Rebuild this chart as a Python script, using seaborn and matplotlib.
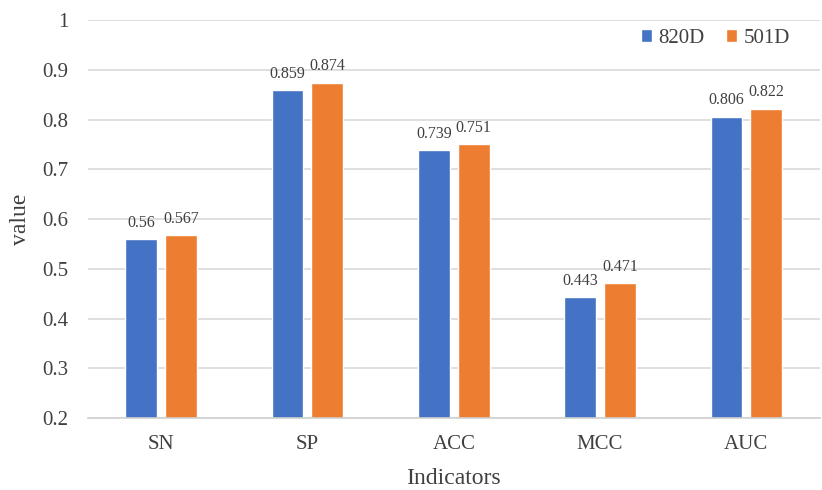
import matplotlib
matplotlib.use("Agg")
import matplotlib.pyplot as plt
import seaborn as sns
import pandas as pd
from matplotlib.ticker import FuncFormatter

indicators = ["SN", "SP", "ACC", "MCC", "AUC"]
values_820d = [0.56, 0.859, 0.739, 0.443, 0.806]
values_501d = [0.567, 0.874, 0.751, 0.471, 0.822]
label_820d = ["0.56", "0.859", "0.739", "0.443", "0.806"]
label_501d = ["0.567", "0.874", "0.751", "0.471", "0.822"]
series_names = ["820D", "501D"]
colors = ["#4472C4", "#ED7D31"]

df = pd.DataFrame({
    "Indicators": indicators * 2,
    "value": values_820d + values_501d,
    "series": [series_names[0]] * len(indicators) + [series_names[1]] * len(indicators),
})

sns.set_theme(style="white")
plt.rcParams["font.family"] = ["Liberation Serif", "DejaVu Serif"]

text_color = "#404040"

fig = plt.figure(figsize=(8.22, 4.9), dpi=100)
ax = fig.add_axes([0.107, 0.147, 0.89, 0.812])

sns.barplot(data=df, x="Indicators", y="value", hue="series",
            palette=colors, width=0.544, gap=0.2, ax=ax, saturation=1)

ax.set_ylim(0.2, 1.0)
ax.set_xlim(-0.5, 4.5)
ax.set_yticks([0.2, 0.3, 0.4, 0.5, 0.6, 0.7, 0.8, 0.9, 1.0])
ax.yaxis.set_major_formatter(FuncFormatter(lambda v, p: "1" if abs(v - 1) < 1e-9 else f"{v:.1f}"))
ax.grid(axis="y", color="#d9d9d9", linewidth=1.2)
ax.set_axisbelow(True)
for s in ["top", "right", "left"]:
    ax.spines[s].set_visible(False)
ax.spines["bottom"].set_color("#d0d0d0")
ax.spines["bottom"].set_linewidth(1.2)
ax.tick_params(axis="both", length=0, labelsize=15, colors=text_color)
ax.tick_params(axis="x", pad=12)
ax.tick_params(axis="y", pad=14)

for container, labels in zip(ax.containers, [label_820d, label_501d]):
    ax.bar_label(container, labels=labels, padding=6, fontsize=11.5, color=text_color)

ax.set_xlabel("Indicators", fontsize=17, color=text_color, labelpad=10)
ax.set_ylabel("value", fontsize=17, color=text_color, labelpad=8)

ax.legend(loc="upper right", bbox_to_anchor=(0.985, 1.025), ncol=2, frameon=False,
          fontsize=15, handlelength=0.55, handleheight=0.55, handletextpad=0.3,
          columnspacing=1.0, labelcolor=text_color)

fig.savefig("out.png", dpi=100)
